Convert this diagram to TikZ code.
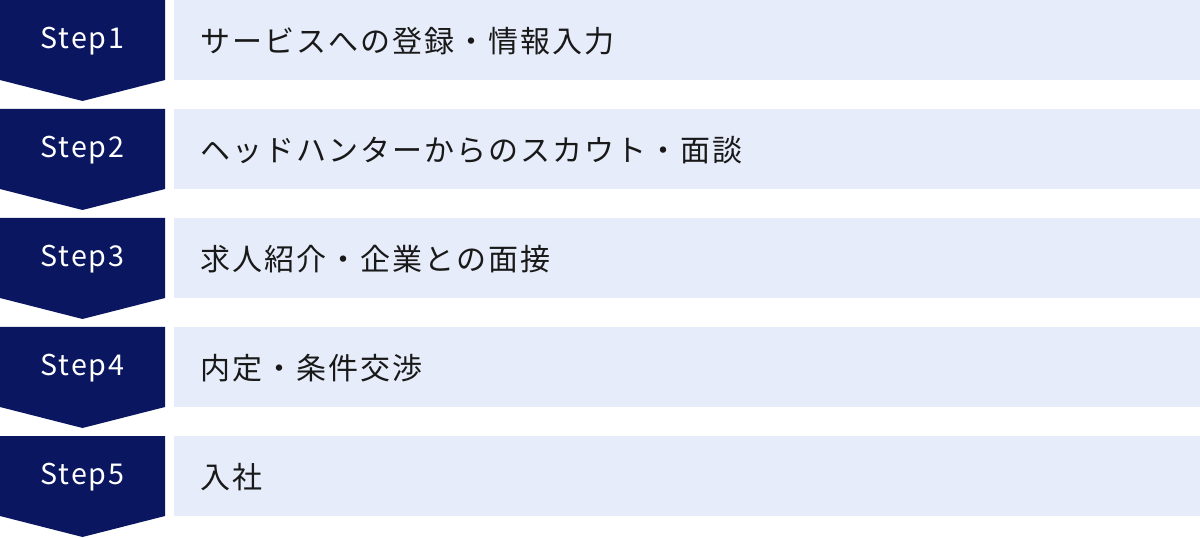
\documentclass[tikz,border=0pt]{standalone}
\usepackage{fontspec}
\setmainfont{Noto Sans CJK JP}
\newfontfamily\jpfont[LetterSpace=6.8]{Noto Sans CJK JP}
\newfontfamily\stepfont[LetterSpace=6]{Noto Sans CJK JP}
\definecolor{navy}{RGB}{10,23,96}
\definecolor{lightbox}{RGB}{230,236,249}
\definecolor{txt}{RGB}{25,25,25}
\tikzset{
  stepshape/.style={fill=navy, draw=none},
  itembox/.style={fill=lightbox, draw=none},
  steplabel/.style={text=white, font=\stepfont\fontsize{21.5pt}{24pt}\selectfont, inner sep=0pt, anchor=center},
  itemlabel/.style={text=txt, font=\jpfont\fontsize{22.5pt}{26pt}\selectfont, inner sep=0pt, anchor=west},
}
\begin{document}
\begin{tikzpicture}[x=0.75pt,y=-0.75pt]
\useasboundingbox (0,0) rectangle (1200,538);
\foreach \i/\t in {0/{サービスへの登録・情報入力},1/{ヘッドハンターからのスカウト・面談},2/{求人紹介・企業との面接},3/{内定・条件交渉},4/{入社}}{
  \pgfmathsetmacro{\yy}{\i*109}
  \pgfmathtruncatemacro{\n}{\i+1}
  \fill[stepshape] (0,\yy) -- (165,\yy) -- (165,\yy+80) -- (82.5,\yy+101) -- (0,\yy+80) -- cycle;
  \node[steplabel] (s\n) at (82.5,\yy+41) {Step\n};
  \fill[itembox] (174,\yy) rectangle (1200,\yy+80);
  \node[itemlabel] (t\n) at (200,\yy+41) {\t};
}
\end{tikzpicture}
\end{document}
